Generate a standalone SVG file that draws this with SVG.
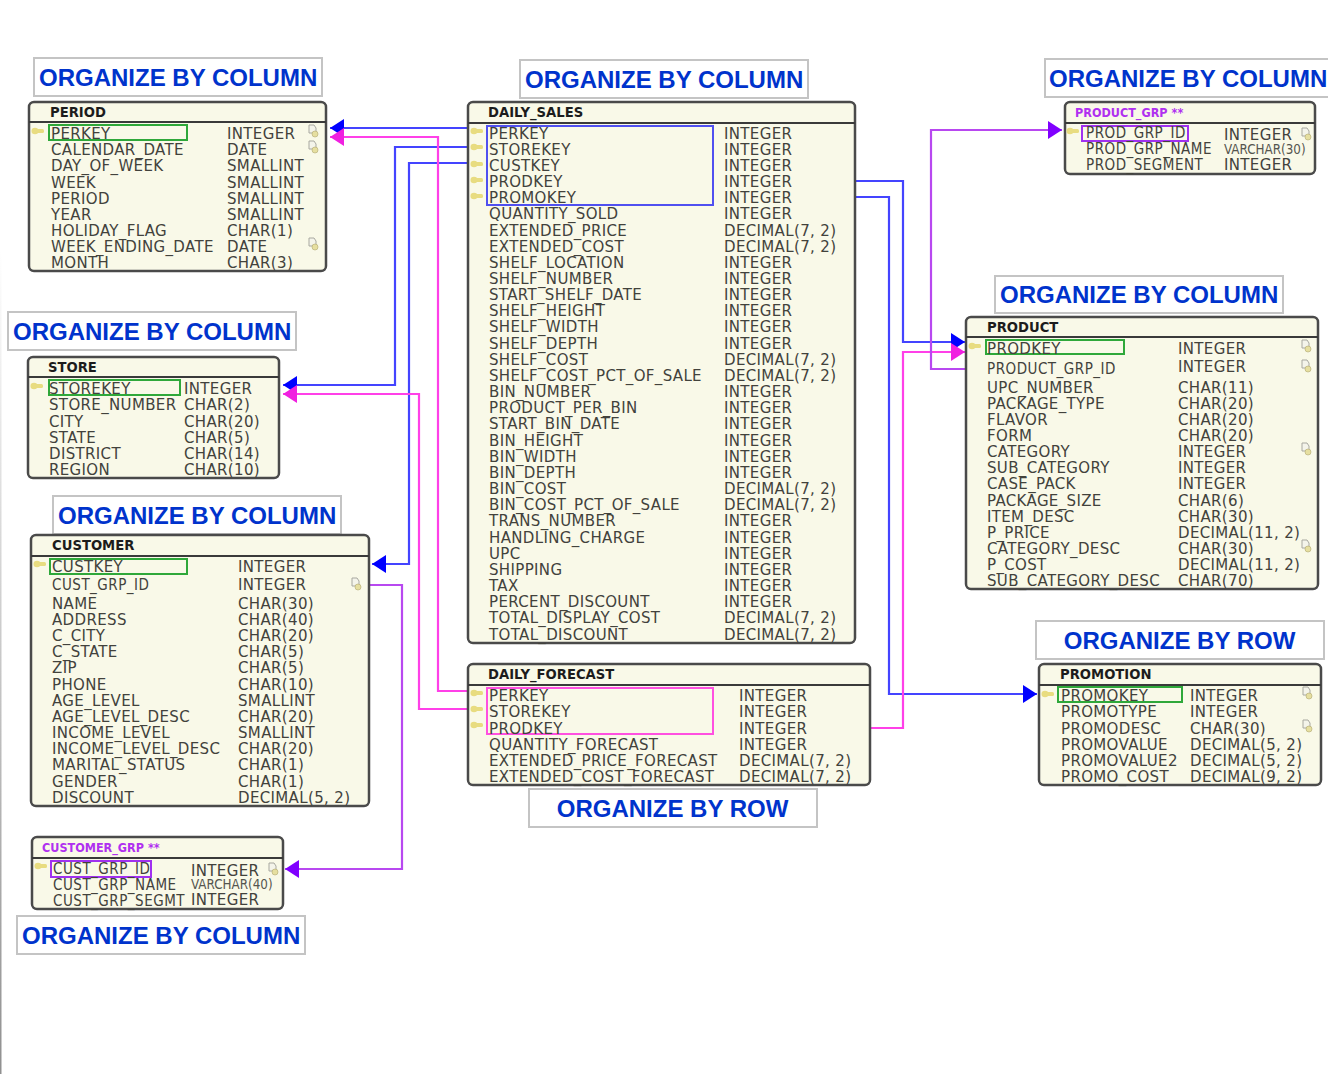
<svg xmlns="http://www.w3.org/2000/svg" width="1328" height="1074" viewBox="0 0 1328 1074">
<style>
.lb{fill:#fff;stroke:#c4c4c4;stroke-width:2}
.lt{font:bold 24px "Liberation Sans",Arial,sans-serif;fill:#0033cc;transform:translateY(-1px)}
.m{text-anchor:middle}
.tb{fill:#f9f9e8;stroke:#4a4a4a;stroke-width:2.5}
.hl{stroke:#3a3a3a;stroke-width:2;fill:none}
.h{font:bold 13.2px "DejaVu Sans",sans-serif;fill:#1c1c1c}
.hp{font:bold 12.5px "DejaVu Sans Condensed","DejaVu Sans",sans-serif;fill:#b030f0}
.r{font:15px "DejaVu Sans",sans-serif;letter-spacing:.35px;fill:#42423c;transform:translateY(.5px)}
.n{font:15px "DejaVu Sans Condensed","DejaVu Sans",sans-serif;letter-spacing:.5px;fill:#42423c}
.s{font:13.3px "DejaVu Sans Condensed","DejaVu Sans",sans-serif;fill:#55554f}
.sg{fill:none;stroke:#2fa83a;stroke-width:2}
.sb{fill:none;stroke:#5050f0;stroke-width:2}
.sm{fill:none;stroke:#ff50e0;stroke-width:2}
.sp{fill:none;stroke:#a030f0;stroke-width:2}
.c{fill:none;stroke-width:2.2}
.cb{stroke:#4444ff}
.cm{stroke:#ff40e8}
.cp{stroke:#b848f0}
</style>
<defs>
<linearGradient id="edge" x1="0" y1="0" x2="0" y2="1"><stop offset="0" stop-color="#ffffff"/><stop offset="1" stop-color="#909090"/></linearGradient>
<marker id="ab" markerUnits="userSpaceOnUse" markerWidth="16" markerHeight="18" refX="14" refY="9" orient="auto"><path d="M0 0L14 9L0 18z" fill="#0000ff"/></marker>
<marker id="am" markerUnits="userSpaceOnUse" markerWidth="16" markerHeight="18" refX="14" refY="9" orient="auto"><path d="M0 0L14 9L0 18z" fill="#f020e0"/></marker>
<marker id="ap" markerUnits="userSpaceOnUse" markerWidth="16" markerHeight="18" refX="14" refY="9" orient="auto"><path d="M0 0L14 9L0 18z" fill="#8000ff"/></marker>
<g id="key"><ellipse cx="-3" cy="0" rx="3.500" ry="3.200" fill="#e8dc80"/><rect x="-2" y="-2" width="8" height="4" rx="1.500" fill="#e8dc80"/></g>
<g id="doc"><path d="M-4 -6H1L3 -3V2H-4z" fill="#f4f4ea" stroke="#a8a8a0"/><circle cx="2" cy="3" r="3" fill="#e6dfa0" stroke="#b0a870" stroke-width=".6"/></g>
</defs>
<rect x="0" y="250" width="1.500" height="824" fill="url(#edge)"/>

<g id="connectors">
<path class="c cb" marker-end="url(#ab)" d="M468 128H330"/>
<path class="c cb" marker-end="url(#ab)" d="M468 147H395V385H283"/>
<path class="c cb" marker-end="url(#ab)" d="M468 163H409V564H372"/>
<path class="c cb" marker-end="url(#ab)" d="M855 181H903V342H965"/>
<path class="c cb" marker-end="url(#ab)" d="M855 197H889V694H1037"/>
<path class="c cm" marker-end="url(#am)" d="M468 691H438V137H330"/>
<path class="c cm" marker-end="url(#am)" d="M468 709H419V394H283"/>
<path class="c cm" marker-end="url(#am)" d="M870 728H903V352H965"/>
<path class="c cp" marker-end="url(#ap)" d="M965 369H931V130H1062"/>
<path class="c cp" marker-end="url(#ap)" d="M370 585H402V869H285"/>
</g>

<g id="label-period"><rect class="lb" x="34" y="58" width="288" height="38"/><text class="lt" x="39" y="87">ORGANIZE BY COLUMN</text></g>
<g id="label-daily-sales"><rect class="lb" x="520" y="60" width="288" height="38"/><text class="lt" x="525" y="89">ORGANIZE BY COLUMN</text></g>
<g id="label-product-grp"><rect class="lb" x="1045" y="59" width="295" height="38"/><text class="lt" x="1049" y="88">ORGANIZE BY COLUMN</text></g>
<g id="label-product"><rect class="lb" x="995" y="276" width="288" height="37"/><text class="lt" x="1000" y="304">ORGANIZE BY COLUMN</text></g>
<g id="label-store"><rect class="lb" x="8" y="312" width="288" height="38"/><text class="lt" x="13" y="341">ORGANIZE BY COLUMN</text></g>
<g id="label-customer"><rect class="lb" x="53" y="496" width="288" height="38"/><text class="lt" x="58" y="525">ORGANIZE BY COLUMN</text></g>
<g id="label-promotion"><rect class="lb" x="1036" y="621" width="288" height="38"/><text class="lt m" x="1179.500" y="650">ORGANIZE BY ROW</text></g>
<g id="label-forecast"><rect class="lb" x="529" y="789" width="288" height="38"/><text class="lt m" x="672.500" y="818">ORGANIZE BY ROW</text></g>
<g id="label-customer-grp"><rect class="lb" x="17" y="916" width="288" height="38"/><text class="lt" x="22" y="945">ORGANIZE BY COLUMN</text></g>

<g id="period">
<rect class="tb" x="29" y="102" width="297" height="169" rx="5"/><path class="hl" d="M29 122H326"/>
<text class="h" x="50" y="117">PERIOD</text>
<use href="#key" x="38" y="131"/><rect class="sg" x="49" y="125" width="138" height="15"/>
<use href="#doc" x="313" y="131"/><use href="#doc" x="313" y="147"/><use href="#doc" x="313" y="244"/>
<text class="r" x="51" y="138">PERKEY</text><text class="r" x="227" y="138">INTEGER</text>
<text class="r" x="51" y="154">CALENDAR_DATE</text><text class="r" x="227" y="154">DATE</text>
<text class="r" x="51" y="170">DAY_OF_WEEK</text><text class="r" x="227" y="170">SMALLINT</text>
<text class="r" x="51" y="187">WEEK</text><text class="r" x="227" y="187">SMALLINT</text>
<text class="r" x="51" y="203">PERIOD</text><text class="r" x="227" y="203">SMALLINT</text>
<text class="r" x="51" y="219">YEAR</text><text class="r" x="227" y="219">SMALLINT</text>
<text class="r" x="51" y="235">HOLIDAY_FLAG</text><text class="r" x="227" y="235">CHAR(1)</text>
<text class="r" x="51" y="251">WEEK_ENDING_DATE</text><text class="r" x="227" y="251">DATE</text>
<text class="r" x="51" y="267">MONTH</text><text class="r" x="227" y="267">CHAR(3)</text>
</g>

<g id="daily-sales">
<rect class="tb" x="468" y="102" width="387" height="541" rx="5"/><path class="hl" d="M468 123H855"/>
<text class="h" x="488" y="117">DAILY_SALES</text>
<use href="#key" x="477" y="131"/><use href="#key" x="477" y="147"/><use href="#key" x="477" y="164"/><use href="#key" x="477" y="180"/><use href="#key" x="477" y="196"/>
<rect class="sb" x="487" y="126" width="226" height="79"/>
<text class="r" x="489" y="138">PERKEY</text><text class="r" x="724" y="138">INTEGER</text>
<text class="r" x="489" y="154.200">STOREKEY</text><text class="r" x="724" y="154.200">INTEGER</text>
<text class="r" x="489" y="170.300">CUSTKEY</text><text class="r" x="724" y="170.300">INTEGER</text>
<text class="r" x="489" y="186.500">PRODKEY</text><text class="r" x="724" y="186.500">INTEGER</text>
<text class="r" x="489" y="202.600">PROMOKEY</text><text class="r" x="724" y="202.600">INTEGER</text>
<text class="r" x="489" y="218.800">QUANTITY_SOLD</text><text class="r" x="724" y="218.800">INTEGER</text>
<text class="r" x="489" y="235">EXTENDED_PRICE</text><text class="r" x="724" y="235">DECIMAL(7, 2)</text>
<text class="r" x="489" y="251.100">EXTENDED_COST</text><text class="r" x="724" y="251.100">DECIMAL(7, 2)</text>
<text class="r" x="489" y="267.300">SHELF_LOCATION</text><text class="r" x="724" y="267.300">INTEGER</text>
<text class="r" x="489" y="283.400">SHELF_NUMBER</text><text class="r" x="724" y="283.400">INTEGER</text>
<text class="r" x="489" y="299.600">START_SHELF_DATE</text><text class="r" x="724" y="299.600">INTEGER</text>
<text class="r" x="489" y="315.800">SHELF_HEIGHT</text><text class="r" x="724" y="315.800">INTEGER</text>
<text class="r" x="489" y="331.900">SHELF_WIDTH</text><text class="r" x="724" y="331.900">INTEGER</text>
<text class="r" x="489" y="348.100">SHELF_DEPTH</text><text class="r" x="724" y="348.100">INTEGER</text>
<text class="r" x="489" y="364.200">SHELF_COST</text><text class="r" x="724" y="364.200">DECIMAL(7, 2)</text>
<text class="r" x="489" y="380.400">SHELF_COST_PCT_OF_SALE</text><text class="r" x="724" y="380.400">DECIMAL(7, 2)</text>
<text class="r" x="489" y="396.600">BIN_NUMBER</text><text class="r" x="724" y="396.600">INTEGER</text>
<text class="r" x="489" y="412.700">PRODUCT_PER_BIN</text><text class="r" x="724" y="412.700">INTEGER</text>
<text class="r" x="489" y="428.900">START_BIN_DATE</text><text class="r" x="724" y="428.900">INTEGER</text>
<text class="r" x="489" y="445">BIN_HEIGHT</text><text class="r" x="724" y="445">INTEGER</text>
<text class="r" x="489" y="461.200">BIN_WIDTH</text><text class="r" x="724" y="461.200">INTEGER</text>
<text class="r" x="489" y="477.400">BIN_DEPTH</text><text class="r" x="724" y="477.400">INTEGER</text>
<text class="r" x="489" y="493.500">BIN_COST</text><text class="r" x="724" y="493.500">DECIMAL(7, 2)</text>
<text class="r" x="489" y="509.700">BIN_COST_PCT_OF_SALE</text><text class="r" x="724" y="509.700">DECIMAL(7, 2)</text>
<text class="r" x="489" y="525.800">TRANS_NUMBER</text><text class="r" x="724" y="525.800">INTEGER</text>
<text class="r" x="489" y="542">HANDLING_CHARGE</text><text class="r" x="724" y="542">INTEGER</text>
<text class="r" x="489" y="558.200">UPC</text><text class="r" x="724" y="558.200">INTEGER</text>
<text class="r" x="489" y="574.300">SHIPPING</text><text class="r" x="724" y="574.300">INTEGER</text>
<text class="r" x="489" y="590.500">TAX</text><text class="r" x="724" y="590.500">INTEGER</text>
<text class="r" x="489" y="606.600">PERCENT_DISCOUNT</text><text class="r" x="724" y="606.600">INTEGER</text>
<text class="r" x="489" y="622.800">TOTAL_DISPLAY_COST</text><text class="r" x="724" y="622.800">DECIMAL(7, 2)</text>
<text class="r" x="489" y="639">TOTAL_DISCOUNT</text><text class="r" x="724" y="639">DECIMAL(7, 2)</text>
</g>

<g id="product-grp">
<rect class="tb" x="1065" y="102" width="250" height="72" rx="5"/><path class="hl" d="M1065 123H1315"/>
<text class="hp" x="1075" y="117">PRODUCT_GRP **</text>
<use href="#key" x="1073" y="131"/><use href="#doc" x="1306" y="134"/>
<rect class="sp" x="1082" y="126" width="106" height="15"/>
<text class="n" x="1086" y="138">PROD_GRP_ID</text><text class="r" x="1224" y="139">INTEGER</text>
<text class="n" x="1086" y="154">PROD_GRP_NAME</text><text class="s" x="1224" y="154">VARCHAR(30)</text>
<text class="n" x="1086" y="170">PROD_SEGMENT</text><text class="r" x="1224" y="169">INTEGER</text>
</g>

<g id="product">
<rect class="tb" x="966" y="317" width="352" height="272" rx="5"/><path class="hl" d="M966 337H1318"/>
<text class="h" x="987" y="332">PRODUCT</text>
<use href="#key" x="975" y="346"/><use href="#doc" x="1306" y="346"/><use href="#doc" x="1306" y="366"/><use href="#doc" x="1306" y="449"/><use href="#doc" x="1306" y="546"/>
<rect class="sg" x="986" y="340" width="138" height="14"/>
<text class="r" x="987" y="353">PRODKEY</text><text class="r" x="1178" y="353">INTEGER</text>
<text class="n" x="987" y="374">PRODUCT_GRP_ID</text><text class="r" x="1178" y="371">INTEGER</text>
<text class="r" x="987" y="392">UPC_NUMBER</text><text class="r" x="1178" y="392">CHAR(11)</text>
<text class="r" x="987" y="408">PACKAGE_TYPE</text><text class="r" x="1178" y="408">CHAR(20)</text>
<text class="r" x="987" y="424">FLAVOR</text><text class="r" x="1178" y="424">CHAR(20)</text>
<text class="r" x="987" y="440">FORM</text><text class="r" x="1178" y="440">CHAR(20)</text>
<text class="r" x="987" y="456">CATEGORY</text><text class="r" x="1178" y="456">INTEGER</text>
<text class="r" x="987" y="472">SUB_CATEGORY</text><text class="r" x="1178" y="472">INTEGER</text>
<text class="r" x="987" y="488">CASE_PACK</text><text class="r" x="1178" y="488">INTEGER</text>
<text class="r" x="987" y="505">PACKAGE_SIZE</text><text class="r" x="1178" y="505">CHAR(6)</text>
<text class="r" x="987" y="521">ITEM_DESC</text><text class="r" x="1178" y="521">CHAR(30)</text>
<text class="r" x="987" y="537">P_PRICE</text><text class="r" x="1178" y="537">DECIMAL(11, 2)</text>
<text class="r" x="987" y="553">CATEGORY_DESC</text><text class="r" x="1178" y="553">CHAR(30)</text>
<text class="r" x="987" y="569">P_COST</text><text class="r" x="1178" y="569">DECIMAL(11, 2)</text>
<text class="r" x="987" y="585">SUB_CATEGORY_DESC</text><text class="r" x="1178" y="585">CHAR(70)</text>
</g>

<g id="store">
<rect class="tb" x="28" y="357" width="251" height="121" rx="5"/><path class="hl" d="M28 377H279"/>
<text class="h" x="48" y="372">STORE</text>
<use href="#key" x="37" y="386"/><rect class="sg" x="49" y="380" width="131" height="15"/>
<text class="r" x="49" y="393">STOREKEY</text><text class="r" x="184" y="393">INTEGER</text>
<text class="r" x="49" y="409">STORE_NUMBER</text><text class="r" x="184" y="409">CHAR(2)</text>
<text class="r" x="49" y="426">CITY</text><text class="r" x="184" y="426">CHAR(20)</text>
<text class="r" x="49" y="442">STATE</text><text class="r" x="184" y="442">CHAR(5)</text>
<text class="r" x="49" y="458">DISTRICT</text><text class="r" x="184" y="458">CHAR(14)</text>
<text class="r" x="49" y="474">REGION</text><text class="r" x="184" y="474">CHAR(10)</text>
</g>

<g id="customer">
<rect class="tb" x="31" y="535" width="338" height="271" rx="5"/><path class="hl" d="M31 556H369"/>
<text class="h" x="52" y="550">CUSTOMER</text>
<use href="#key" x="40" y="564"/><use href="#doc" x="356" y="584"/>
<rect class="sg" x="50" y="559" width="137" height="15"/>
<text class="r" x="52" y="571">CUSTKEY</text><text class="r" x="238" y="571">INTEGER</text>
<text class="n" x="52" y="590">CUST_GRP_ID</text><text class="r" x="238" y="589">INTEGER</text>
<text class="r" x="52" y="608">NAME</text><text class="r" x="238" y="608">CHAR(30)</text>
<text class="r" x="52" y="624">ADDRESS</text><text class="r" x="238" y="624">CHAR(40)</text>
<text class="r" x="52" y="640">C_CITY</text><text class="r" x="238" y="640">CHAR(20)</text>
<text class="r" x="52" y="656">C_STATE</text><text class="r" x="238" y="656">CHAR(5)</text>
<text class="r" x="52" y="672">ZIP</text><text class="r" x="238" y="672">CHAR(5)</text>
<text class="r" x="52" y="689">PHONE</text><text class="r" x="238" y="689">CHAR(10)</text>
<text class="r" x="52" y="705">AGE_LEVEL</text><text class="r" x="238" y="705">SMALLINT</text>
<text class="r" x="52" y="721">AGE_LEVEL_DESC</text><text class="r" x="238" y="721">CHAR(20)</text>
<text class="r" x="52" y="737">INCOME_LEVEL</text><text class="r" x="238" y="737">SMALLINT</text>
<text class="r" x="52" y="753">INCOME_LEVEL_DESC</text><text class="r" x="238" y="753">CHAR(20)</text>
<text class="r" x="52" y="769">MARITAL_STATUS</text><text class="r" x="238" y="769">CHAR(1)</text>
<text class="r" x="52" y="786">GENDER</text><text class="r" x="238" y="786">CHAR(1)</text>
<text class="r" x="52" y="802">DISCOUNT</text><text class="r" x="238" y="802">DECIMAL(5, 2)</text>
</g>

<g id="daily-forecast">
<rect class="tb" x="468" y="664" width="402" height="121" rx="5"/><path class="hl" d="M468 685H870"/>
<text class="h" x="488" y="679">DAILY_FORECAST</text>
<use href="#key" x="477" y="693"/><use href="#key" x="477" y="709"/><use href="#key" x="477" y="725"/>
<rect class="sm" x="487" y="688" width="226" height="46"/>
<text class="r" x="489" y="700">PERKEY</text><text class="r" x="739" y="700">INTEGER</text>
<text class="r" x="489" y="716">STOREKEY</text><text class="r" x="739" y="716">INTEGER</text>
<text class="r" x="489" y="733">PRODKEY</text><text class="r" x="739" y="733">INTEGER</text>
<text class="r" x="489" y="749">QUANTITY_FORECAST</text><text class="r" x="739" y="749">INTEGER</text>
<text class="r" x="489" y="765">EXTENDED_PRICE_FORECAST</text><text class="r" x="739" y="765">DECIMAL(7, 2)</text>
<text class="r" x="489" y="781">EXTENDED_COST_FORECAST</text><text class="r" x="739" y="781">DECIMAL(7, 2)</text>
</g>

<g id="promotion">
<rect class="tb" x="1039" y="664" width="282" height="121" rx="5"/><path class="hl" d="M1039 685H1321"/>
<text class="h" x="1060" y="679">PROMOTION</text>
<use href="#key" x="1048" y="694"/><use href="#doc" x="1307" y="693"/><use href="#doc" x="1307" y="726"/>
<rect class="sg" x="1058" y="687" width="124" height="15"/>
<text class="r" x="1061" y="700">PROMOKEY</text><text class="r" x="1190" y="700">INTEGER</text>
<text class="r" x="1061" y="716">PROMOTYPE</text><text class="r" x="1190" y="716">INTEGER</text>
<text class="r" x="1061" y="733">PROMODESC</text><text class="r" x="1190" y="733">CHAR(30)</text>
<text class="r" x="1061" y="749">PROMOVALUE</text><text class="r" x="1190" y="749">DECIMAL(5, 2)</text>
<text class="r" x="1061" y="765">PROMOVALUE2</text><text class="r" x="1190" y="765">DECIMAL(5, 2)</text>
<text class="r" x="1061" y="781">PROMO_COST</text><text class="r" x="1190" y="781">DECIMAL(9, 2)</text>
</g>

<g id="customer-grp">
<rect class="tb" x="32" y="837" width="251" height="72" rx="5"/><path class="hl" d="M32 858H283"/>
<text class="hp" x="42" y="852">CUSTOMER_GRP **</text>
<use href="#key" x="41" y="866"/><use href="#doc" x="273" y="869"/>
<rect class="sp" x="51" y="861" width="100" height="16"/>
<text class="n" x="53" y="874">CUST_GRP_ID</text><text class="r" x="191" y="875">INTEGER</text>
<text class="n" x="53" y="890">CUST_GRP_NAME</text><text class="s" x="191" y="889">VARCHAR(40)</text>
<text class="n" x="53" y="906">CUST_GRP_SEGMT</text><text class="r" x="191" y="904">INTEGER</text>
</g>
</svg>
